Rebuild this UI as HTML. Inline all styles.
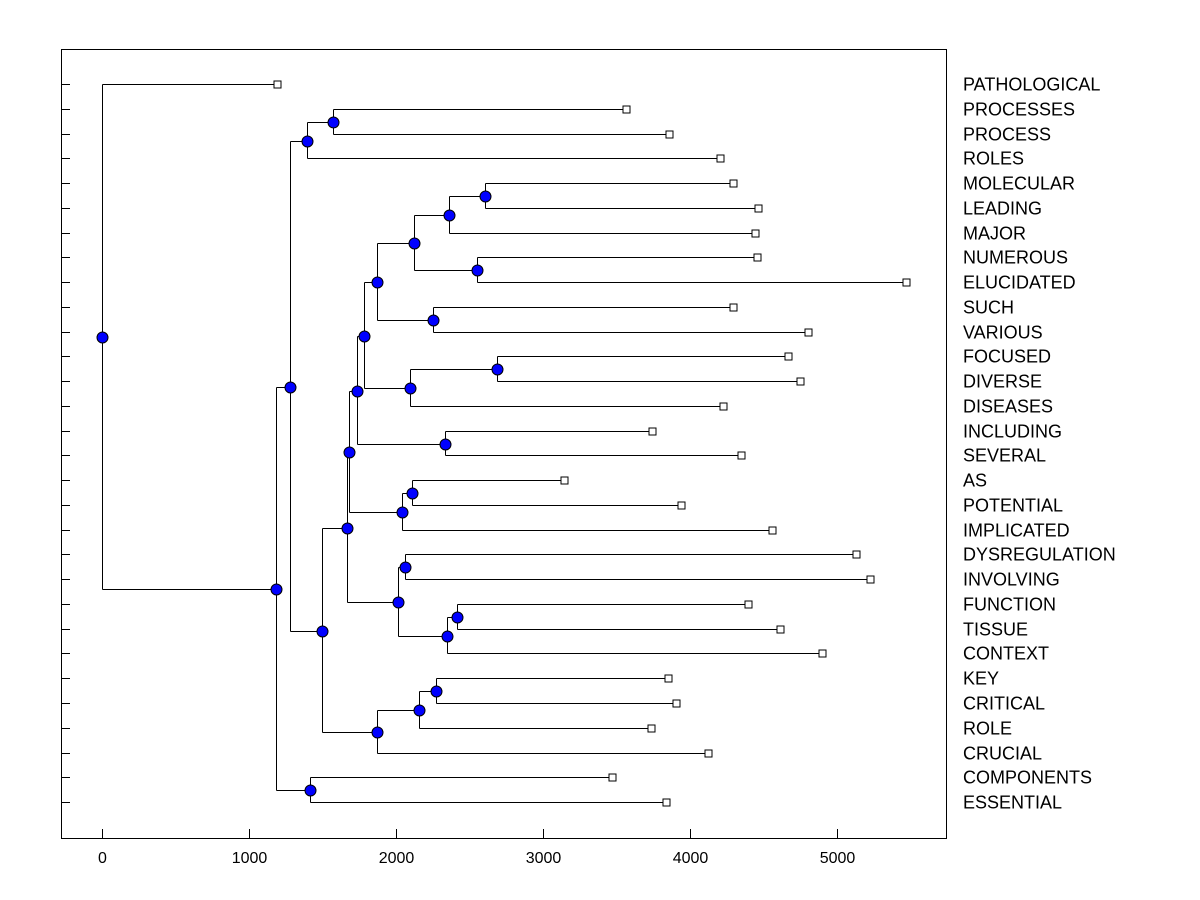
<!DOCTYPE html>
<html><head><meta charset="utf-8"><style>
body{margin:0;background:#fff}
svg{display:block;font-family:"Liberation Sans",Arial,sans-serif}
</style></head><body>
<svg id="chart" width="1200" height="900" xmlns="http://www.w3.org/2000/svg">
<rect x="0" y="0" width="1200" height="900" fill="#fff"/>
<rect x="61.5" y="49.5" width="885" height="789" fill="none" stroke="#000" stroke-width="1" shape-rendering="crispEdges"/>
<g id="axes" shape-rendering="crispEdges"></g><g id="lines" shape-rendering="crispEdges"></g><g id="marks"></g><g id="labels"></g>
</svg>
<script>
const leafNames=["PATHOLOGICAL","PROCESSES","PROCESS","ROLES","MOLECULAR","LEADING","MAJOR","NUMEROUS","ELUCIDATED","SUCH","VARIOUS","FOCUSED","DIVERSE","DISEASES","INCLUDING","SEVERAL","AS","POTENTIAL","IMPLICATED","DYSREGULATION","INVOLVING","FUNCTION","TISSUE","CONTEXT","KEY","CRITICAL","ROLE","CRUCIAL","COMPONENTS","ESSENTIAL"];
const leafValues=[1190,3565,3857,4204,4293,4463,4442,4456,5469,4293,4803,4667,4748,4224,3741,4347,3143,3939,4558,5129,5224,4395,4612,4898,3850,3905,3735,4122,3469,3837];
const nodeIds=["E","C","T","T2","X","U","Y","R","Z","V","W","S","O","Q","P","J","L","N","M","K","F","I","H","G","D","B","CE","A","root"];
const nodeChildren=[[1,2],["E",3],[4,5],["T",6],[7,8],["T2","X"],[9,10],["U","Y"],[11,12],["Z",13],["R","V"],[14,15],["W","S"],[16,17],["Q",18],["O","P"],[19,20],[21,22],["N",23],["L","M"],["J","K"],[24,25],["I",26],["H",27],["F","G"],["C","D"],[28,29],["B","CE"],[0,"A"]];
const nodeValues=[1571,1395,2605,2361,2551,2122,2252,1871,2687,2095,1782,2333,1735,2109,2041,1680,2061,2415,2347,2014,1667,2272,2156,1871,1497,1279,1415,1184,0];
const xTicks=[0,1000,2000,3000,4000,5000];

const NS="http://www.w3.org/2000/svg";
const xs=v=>Math.round(102+v*0.147)+0.5;
const ys=i=>Math.round(84+i*24.76)+0.5;
function mk(tag,attrs,parent){const e=document.createElementNS(NS,tag);for(const k in attrs)e.setAttribute(k,attrs[k]);document.getElementById(parent).appendChild(e);return e;}
const pos={};
leafNames.forEach((n,i)=>{pos[i]={x:xs(leafValues[i]),y:ys(i)};});
nodeIds.forEach((id,k)=>{
  const [a,b]=nodeChildren[k];const pa=pos[a],pb=pos[b];
  const x=xs(nodeValues[k]),y=Math.round((pa.y+pb.y)/2)+0.5;pos[id]={x,y};
  const l=mk("path",{d:`M${x},${pa.y}V${pb.y}M${x},${pa.y}H${pa.x}M${x},${pb.y}H${pb.x}`,fill:"none",stroke:"#000","stroke-width":1},"lines");
  
  
});
nodeIds.forEach(id=>{
  const p=pos[id];
  const c=mk("circle",{cx:p.x,cy:p.y,r:5.5,fill:"#0000ff",stroke:"#000","stroke-width":1},"marks");
  
  
});
leafNames.forEach((n,i)=>{
  const p=pos[i];
  const r=mk("rect",{x:p.x-3.5,y:p.y-3.5,width:7,height:7,fill:"#fff",stroke:"#000","stroke-width":1,"shape-rendering":"crispEdges"},"marks");
  
  
  const t=mk("line",{x1:61,x2:70,y1:p.y,y2:p.y,stroke:"#000"},"axes");
  
  
  const tx=mk("text",{x:963,y:p.y+6,"font-size":18,fill:"#000"},"labels");
  tx.textContent=n;
  
  
});
xTicks.forEach(v=>{
  const x=xs(v);
  const t=mk("line",{x1:x,x2:x,y1:838,y2:829,stroke:"#000"},"axes");
  
  
  const tx=mk("text",{x:x,y:863,"font-size":16,"text-anchor":"middle",fill:"#000"},"labels");
  tx.textContent=String(v);
  
  
});
</script>
</body></html>
